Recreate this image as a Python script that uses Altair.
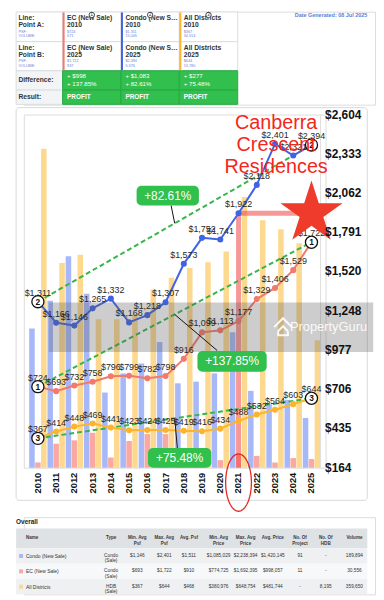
import math
import altair as alt
import pandas as pd

# ====================== DATA ======================
years = list(range(2010, 2026))
condo_psf = [1311, 1166, 1146, 1265, 1332, 1168, 1218, 1307, 1573, 1752, 1741, 1922, 2118, 2401, 2321, 2394]
ec_psf = [724, 693, 732, 758, 796, 799, 782, 798, 916, 1099, 1113, 1177, 1329, 1406, 1529, 1722]
all_psf = [367, 414, 448, 469, 441, 423, 424, 425, 419, 416, 434, 488, 532, 564, 603, 644]
condo_vol = [15045, 18050, 22870, 18830, 8130, 10200, 11270, 13590, 9130, 9310, 10200, 14660, 8310, 6880, 7350, 5376]
ec_vol = [571, 2600, 2960, 3780, 1100, 2890, 3640, 3640, 1500, 1700, 820, 1500, 1280, 570, 1040, 937]
all_vol = [34514, 22150, 23040, 16050, 16050, 16620, 19290, 20540, 21610, 22220, 23400, 29290, 26780, 25790, 24290, 13780]
price_ticks = [164, 435, 706, 977, 1248, 1520, 1791, 2062, 2333, 2604]
volume_max = 38200
series_names = ["EC (New Sale)", "Condo (New Sale)", "All Districts"]
series_numbers = ["1", "2", "3"]
highlight_year = 2021
project_lines = ["Canberra", "Crescent", "Residences"]
date_generated = "Date Generated: 08 Jul 2025"
watermark_text = "PropertyGuru"
result_text = "PROFIT"

overall_names = ["Condo (New Sale)", "EC (New Sale)", "All Districts"]
overall_type = ["Condo\n(Sale)", "Condo\n(Sale)", "HDB\n(Sale)"]
overall_min_psf = [1146, 693, 367]
overall_max_psf = [2401, 1722, 644]
overall_avg_psf = [1511, 910, 468]
overall_min_price = [1085029, 774725, 380976]
overall_max_price = [2238394, 1692395, 648754]
overall_avg_price = [1420145, 998057, 481744]
overall_projects = ["91", "11", "-"]
overall_hdb = ["-", "-", "8,195"]
overall_volume = [189894, 30556, 359650]
overall_headers = ["Name", "Type", "Min. Avg\nPsf", "Max. Avg\nPsf", "Avg. Psf", "Min. Avg\nPrice",
                   "Max. Avg\nPrice", "Avg. Price", "No. Of\nProject", "No. Of\nHDB", "Volume"]

psf = {"EC (New Sale)": ec_psf, "Condo (New Sale)": condo_psf, "All Districts": all_psf}
vol = {"EC (New Sale)": ec_vol, "Condo (New Sale)": condo_vol, "All Districts": all_vol}

# ====================== STYLE ======================
FONT = "Liberation Sans"
LINE_COLOR = {"EC (New Sale)": "#f2796c", "Condo (New Sale)": "#4063e6", "All Districts": "#fbb42c"}
BAR_STYLE = {"Condo (New Sale)": ("#8aa0f5", 0.75, -6),
             "EC (New Sale)": ("#f7938a", 0.8, 0),
             "All Districts": ("#fccf73", 0.8, 6)}
SWATCH = {"Condo (New Sale)": "#a9b7f6", "EC (New Sale)": "#f6a9a1", "All Districts": "#fdd891"}
GREEN = "#31bf4e"
BOX = {"Condo (New Sale)": dict(dx=-7, dy=-28, w=63, h=20, lx=-3.6, ly=-18),
       "EC (New Sale)": dict(dx=58, dy=47.5, w=70, h=21, lx=43, ly=36.5),
       "All Districts": dict(dx=5, dy=40, w=64, h=20, lx=2.7, ly=30)}
STAR = "M0,-1L0.2245,-0.309L0.951,-0.309L0.363,0.118L0.588,0.809L0,0.382L-0.588,0.809L-0.363,0.118L-0.951,-0.309L-0.2245,-0.309Z"
ELLIPSE = "M" + "L".join(f"{0.45 * math.cos(t * math.pi / 18):.3f},{math.sin(t * math.pi / 18):.3f}"
                         for t in range(36)) + "Z"
LOGO = "M-1,0.1L0,-0.9L1,0.1M-0.55,0.55L0,0L0.55,0.55M-0.55,0.55L-0.55,1L0.55,1L0.55,0.55"
SHIFT_X = -7.8  # canvases start left of the main plot, where its frame starts

# ====================== MAIN CHART ======================
PW, PH = 305, 357
LO, HI = price_ticks[0], price_ticks[-1]
xs = alt.Scale(domain=[years[0] - 0.5, years[-1] + 0.5], nice=False, zero=False)
ys = alt.Scale(domain=[LO, HI], nice=False, zero=False)


def xq(f="year"):
    return alt.X(f"{f}:Q", scale=xs, axis=None)


def yq(f="psf"):
    return alt.Y(f"{f}:Q", scale=ys, axis=None)


one = pd.DataFrame({"k": [0]})

frame = alt.Chart(one).mark_rect(fill="transparent", stroke="#d9d9d9", strokeWidth=1, cornerRadius=3).encode(
    x=alt.value(-7.8), x2=alt.value(PW + 42.2), y=alt.value(-7), y2=alt.value(PH + 33))
# invisible spacer fixing where the panel ends below (room for the red ellipse)
spacer = alt.Chart(one).mark_rect(fill="transparent").encode(
    x=alt.value(0), x2=alt.value(10), y=alt.value(PH + 30), y2=alt.value(PH + 46.5))

# volume bars share the plot through a secondary (volume -> price-axis) conversion
bar_layers = []
for name in ["Condo (New Sale)", "EC (New Sale)", "All Districts"]:
    color, op, off = BAR_STYLE[name]
    bdf = pd.DataFrame({"year": years, "vol": vol[name]})
    bar_layers.append(
        alt.Chart(bdf).transform_calculate(
            pv=f"{LO} + datum.vol / {volume_max} * {HI - LO}", base=f"{LO}"
        ).mark_bar(width=5.6, xOffset=off, color=color, opacity=op).encode(
            x=xq(), y=yq("pv"), y2=alt.Y2("base:Q")))

rows = []
for name in series_names:
    for yr, p in zip(years, psf[name]):
        rows.append({"year": yr, "psf": p, "series": name})
lines_df = pd.DataFrame(rows)
color_enc = alt.Color("series:N", legend=None,
                      scale=alt.Scale(domain=series_names, range=[LINE_COLOR[n] for n in series_names]))

line = alt.Chart(lines_df).mark_line(strokeWidth=2).encode(x=xq(), y=yq(), color=color_enc)
pts = alt.Chart(lines_df).mark_circle(size=38, opacity=1).encode(x=xq(), y=yq(), color=color_enc)
labels = alt.Chart(lines_df).mark_text(fontSize=9, color="#2a2a2a", baseline="bottom", dy=-4).encode(
    x=xq(), y=yq(), text=alt.Text("psf:Q", format="$,d"))

# axes drawn through the same scales
xlab_df = pd.DataFrame({"year": years, "base": [LO] * len(years)})
x_labels = alt.Chart(xlab_df).mark_text(angle=270, align="right", baseline="middle", fontSize=9.5,
                                        fontWeight="bold", color="#111", yOffset=5).encode(
    x=xq(), y=yq("base"), text=alt.Text("year:Q", format="d"))
ylab_df = pd.DataFrame({"tick": price_ticks, "xr": [years[-1] + 0.5] * len(price_ticks)})
y_labels = alt.Chart(ylab_df).mark_text(align="left", baseline="middle", fontSize=12, fontWeight="bold",
                                        color="#111", dx=4.5).encode(
    x=xq("xr"), y=yq("tick"), text=alt.Text("tick:Q", format="$,d"))
y_domain = alt.Chart(pd.DataFrame({"xr": [years[-1] + 0.5], "lo": [LO], "hi": [HI]})).mark_rule(
    color="#dddddd", strokeWidth=1).encode(x=xq("xr"), y=yq("lo"), y2=alt.Y2("hi"))

ends = []
for name, num in zip(series_names, series_numbers):
    ends.append({"year": years[0], "psf": psf[name][0], "series": name, "num": num})
    ends.append({"year": years[-1], "psf": psf[name][-1], "series": name, "num": num})
ends_df = pd.DataFrame(ends)
dashed = alt.Chart(ends_df).mark_line(strokeDash=[5, 3], strokeWidth=2, color="#35b54a").encode(
    x=xq(), y=yq(), detail="series:N")
markers = alt.Chart(ends_df).mark_circle(size=150, fill="white", stroke="#111", strokeWidth=1.3, opacity=1).encode(
    x=xq(), y=yq())
marker_txt = alt.Chart(ends_df).mark_text(fontSize=8.5, fontWeight="bold", color="#111").encode(
    x=xq(), y=yq(), text="num:N")

box_layers = []
for name in series_names:
    a, b = psf[name][0], psf[name][-1]
    mid = pd.DataFrame({"year": [(years[0] + years[-1]) / 2], "psf": [(a + b) / 2],
                        "label": [f"+{(b - a) / a * 100:.2f}%"]})
    L = BOX[name]
    base = alt.Chart(mid).encode(x=xq(), y=yq())
    box_layers.append(base.mark_rule(color="#111", strokeWidth=1, x2Offset=L["lx"], y2Offset=L["ly"]).encode(
        x2=alt.X2("year"), y2=alt.Y2("psf")))
    box_layers.append(base.mark_rect(color=GREEN, cornerRadius=5,
                                     xOffset=L["dx"] - L["w"] / 2, x2Offset=L["dx"] + L["w"] / 2,
                                     yOffset=L["dy"] - L["h"] / 2, y2Offset=L["dy"] + L["h"] / 2).encode(
        x2=alt.X2("year"), y2=alt.Y2("psf")))
    box_layers.append(base.mark_text(color="white", fontSize=12, dx=L["dx"], dy=L["dy"]).encode(text="label:N"))

hp = condo_psf[years.index(highlight_year)]
hl_df = pd.DataFrame({"year": [highlight_year], "psf": [hp], "year2": [years[-1]], "base": [LO]})
hline = alt.Chart(hl_df).mark_rule(color="#ee4444", opacity=0.55, strokeWidth=5).encode(
    x=xq(), y=yq(), x2=alt.X2("year2"))
vline = alt.Chart(hl_df).mark_rule(color="#ee4444", opacity=0.55, strokeWidth=5).encode(
    x=xq(), y=yq(), y2=alt.Y2("base"))
ellipse = alt.Chart(hl_df).mark_point(shape=ELLIPSE, size=3364, stroke="#e8281e", strokeWidth=1.3,
                                      filled=False, opacity=1, yOffset=15).encode(
    x=xq(), y=yq("base"))
star = alt.Chart(hl_df).mark_point(shape=STAR, size=4356, filled=True, color="#ef3b2c", opacity=1).encode(
    x=xq("year2"), y=yq())
name_layers = []
for txt, dy in zip(project_lines, [-91, -69, -47]):
    name_layers.append(alt.Chart(hl_df).mark_text(text=txt, fontSize=20, color="#f5261b", dx=38, dy=dy,
                                                  baseline="middle").encode(x=xq(), y=yq()))

wm_rect = alt.Chart(one).mark_rect(color="#5a5a5a", opacity=0.3).encode(
    x=alt.value(25.2), x2=alt.value(353.2), y=alt.value(190), y2=alt.value(240))
wm_logo = alt.Chart(one).mark_point(shape=LOGO, size=324, filled=False, stroke="white", strokeWidth=2,
                                    opacity=0.9).encode(x=alt.value(262), y=alt.value(214))
wm_text = alt.Chart(one).mark_text(text=watermark_text, fontSize=13, color="white", opacity=0.9).encode(
    x=alt.value(308), y=alt.value(215))

main = alt.layer(frame, spacer, *bar_layers, y_domain, hline, vline, dashed, line, pts, wm_rect, wm_logo, wm_text,
                 labels, markers, marker_txt, *box_layers, star, *name_layers, ellipse, x_labels, y_labels
                 ).properties(width=PW, height=PH)


# ====================== CANVAS HELPERS ======================
def canvas_scales(W, H, y0=0.0):
    return (alt.Scale(domain=[0, W], range=[SHIFT_X, W + SHIFT_X], nice=False, zero=False),
            alt.Scale(domain=[0, H], range=[y0, H + y0], nice=False, zero=False))


def rect_layer(df, sx, sy, **kw):
    return alt.Chart(df).mark_rect(**kw).encode(
        x=alt.X("x:Q", scale=sx, axis=None), x2=alt.X2("x2"),
        y=alt.Y("y:Q", scale=sy, axis=None), y2=alt.Y2("y2"),
        fill=alt.Fill("fill:N", scale=None), stroke=alt.Stroke("stroke:N", scale=None))


def text_layer(items, sx, sy, **kw):
    df = pd.DataFrame(items, columns=["x", "y", "t"])
    return alt.Chart(df).mark_text(**kw).encode(
        x=alt.X("x:Q", scale=sx, axis=None), y=alt.Y("y:Q", scale=sy, axis=None), text="t:N")


# ====================== TOP TABLE ======================
TW, TH = 355, 94
COL_EDGES = [0, 47, 106, 165, 224]
ROW_EDGES = [0.3, 30.3, 59.7, 79.3, 93.7]
tsx, tsy = canvas_scales(TW, TH)

cells = []
for r in range(4):
    for c in range(4):
        green = r >= 2 and c >= 1
        cells.append(dict(x=COL_EDGES[c], x2=COL_EDGES[c + 1], y=ROW_EDGES[r], y2=ROW_EDGES[r + 1],
                          fill=GREEN if green else ("#f3f4f6" if r >= 2 else "white"),
                          stroke="#2aa846" if green else "#dadde1"))
stripes = []
for c, name in enumerate(series_names, start=1):
    stripes.append(dict(x=COL_EDGES[c], x2=COL_EDGES[c] + 2, y=ROW_EDGES[0] + 0.5, y2=ROW_EDGES[2] - 0.5,
                        fill=LINE_COLOR[name], stroke=LINE_COLOR[name]))

bold_items, name_items, small_items, diff_items, profit_items = [], [], [], [], []
for ri, (lab, idx) in enumerate([("A", 0), ("B", -1)]):
    top = ROW_EDGES[ri]
    bold_items += [(2.3, top + 6.5, "Line:"), (2.3, top + 13.2, f"Point {lab}:")]
    small_items += [(2.3, top + 19.8, "PSF:"), (2.3, top + 24.8, "VOLUME:")]
    for c, name in enumerate(series_names, start=1):
        x0 = COL_EDGES[c] + 4.5
        name_items.append((x0, top + 6.5, name))
        bold_items.append((x0, top + 13.2, str(years[idx])))
        small_items += [(x0, top + 19.8, f"${psf[name][idx]:,}"), (x0, top + 24.8, f"{vol[name][idx]:,}")]
bold_items.append((2.3, (ROW_EDGES[2] + ROW_EDGES[3]) / 2, "Difference:"))
bold_items.append((2.3, (ROW_EDGES[3] + ROW_EDGES[4]) / 2, "Result:"))
for c, name in enumerate(series_names, start=1):
    a, b = psf[name][0], psf[name][-1]
    x0 = COL_EDGES[c] + 4.5
    diff_items += [(x0, ROW_EDGES[2] + 5, f"+ ${b - a:,}"), (x0, ROW_EDGES[2] + 13.3, f"+ {(b - a) / a * 100:.2f}%")]
    profit_items.append((x0, (ROW_EDGES[3] + ROW_EDGES[4]) / 2, result_text))

circ_df = pd.DataFrame({"x": [(COL_EDGES[c] + COL_EDGES[c + 1]) / 2 for c in (1, 2, 3)],
                        "y": [3.3] * 3, "t": series_numbers})
circ = alt.Chart(circ_df).mark_circle(size=30, fill="white", stroke="#222", strokeWidth=0.8, opacity=1).encode(
    x=alt.X("x:Q", scale=tsx, axis=None), y=alt.Y("y:Q", scale=tsy, axis=None))
circ_t = alt.Chart(circ_df).mark_text(fontSize=4.5, color="#222").encode(
    x=alt.X("x:Q", scale=tsx, axis=None), y=alt.Y("y:Q", scale=tsy, axis=None), text="t:N")

top_table = alt.layer(
    rect_layer(pd.DataFrame(cells), tsx, tsy, strokeWidth=1),
    rect_layer(pd.DataFrame(stripes), tsx, tsy, strokeWidth=0),
    text_layer(bold_items, tsx, tsy, align="left", baseline="middle", fontSize=6.8, fontWeight="bold", color="#333"),
    text_layer(name_items, tsx, tsy, align="left", baseline="middle", fontSize=6.8, fontWeight="bold", color="#333",
               limit=53),
    text_layer(small_items, tsx, tsy, align="left", baseline="middle", fontSize=3.8, color="#6b80dc"),
    text_layer(diff_items, tsx, tsy, align="left", baseline="middle", fontSize=6.2, color="white"),
    text_layer(profit_items, tsx, tsy, align="left", baseline="middle", fontSize=6.5, fontWeight="bold",
               color="white"),
    circ, circ_t,
    text_layer([(TW, 3, date_generated)], tsx, tsy, align="right", baseline="middle", fontSize=5.5,
               fontWeight="bold", color="#5b80d8"),
).properties(width=TW, height=TH)

# ====================== BOTTOM TABLE ======================
BW, BH = 355, 78
B_ROWS = [11.5, 31.5, 47, 62.5, 78]
B_COLS = [10, 96, 122.5, 149.8, 174.7, 204.7, 232, 259.5, 287, 313, 342]
bsx, bsy = canvas_scales(BW, BH)
row_fills = ["#dfe2e5", "#eef0f2", "#f7f8f9", "#eef0f2"]
brects = [dict(x=0, x2=BW, y=B_ROWS[i], y2=B_ROWS[i + 1], fill=row_fills[i], stroke=row_fills[i]) for i in range(4)]
swatches = []
for i, name in enumerate(overall_names):
    yc = (B_ROWS[i + 1] + B_ROWS[i + 2]) / 2
    swatches.append(dict(x=3, x2=7, y=yc - 2, y2=yc + 2, fill=SWATCH[name], stroke=SWATCH[name]))

hy = (B_ROWS[0] + B_ROWS[1]) / 2
head_left = [(B_COLS[0], hy, overall_headers[0])]
head_center = [(B_COLS[j], hy, overall_headers[j]) for j in range(1, len(overall_headers))]
name_cells, val_cells = [], []
for i, name in enumerate(overall_names):
    yc = (B_ROWS[i + 1] + B_ROWS[i + 2]) / 2
    name_cells.append((B_COLS[0], yc, name))
    vals = [overall_type[i], f"${overall_min_psf[i]:,}", f"${overall_max_psf[i]:,}", f"${overall_avg_psf[i]:,}",
            f"${overall_min_price[i]:,}", f"${overall_max_price[i]:,}", f"${overall_avg_price[i]:,}",
            overall_projects[i], overall_hdb[i], f"{overall_volume[i]:,}"]
    for j, v in enumerate(vals, start=1):
        val_cells.append((B_COLS[j], yc, v))

bottom = alt.layer(
    rect_layer(pd.DataFrame(brects), bsx, bsy, strokeWidth=0),
    rect_layer(pd.DataFrame(swatches), bsx, bsy, strokeWidth=0),
    text_layer([(0, 5, "Overall")], bsx, bsy, align="left", baseline="middle", fontSize=6.5, fontWeight="bold",
               color="#222"),
    text_layer(head_left, bsx, bsy, align="left", baseline="middle", fontSize=4.6, fontWeight="bold",
               color="#3a3a3a"),
    text_layer(head_center, bsx, bsy, align="center", baseline="middle", fontSize=4.6, fontWeight="bold",
               color="#3a3a3a", lineBreak="\n", lineHeight=5.5),
    text_layer(name_cells, bsx, bsy, align="left", baseline="middle", fontSize=5, color="#333"),
    text_layer(val_cells, bsx, bsy, align="center", baseline="middle", fontSize=4.8, color="#333",
               lineBreak="\n", lineHeight=5.5),
).properties(width=BW, height=BH)

chart = alt.vconcat(top_table, main, bottom, spacing=1).properties(
    padding={"left": 7, "top": -1.5, "right": 0, "bottom": 0}
).configure_view(stroke="transparent").configure(font=FONT)

chart.save("out.html", embed_options={"renderer": "svg", "actions": False})
